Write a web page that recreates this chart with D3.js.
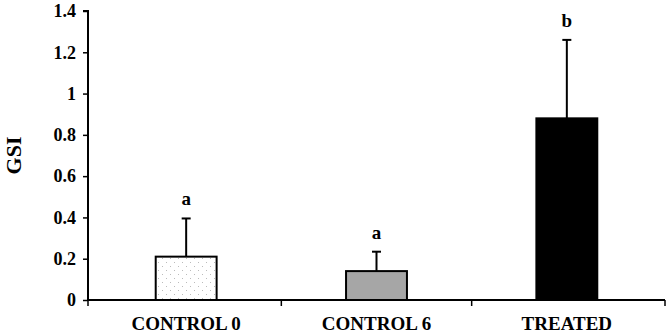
<!DOCTYPE html>
<html><head><meta charset="utf-8">
<script src="https://cdn.jsdelivr.net/npm/d3@7"></script>
<style>body{margin:0;background:#fff}svg{display:block}svg text{font-family:"Liberation Serif",serif !important;font-weight:700;fill:#000}</style>
</head><body>
<script>
const categories = ["CONTROL 0", "CONTROL 6", "TREATED"];
const means = [0.21, 0.14, 0.88];
const errors = [0.185, 0.094, 0.38];
const letters = ["a", "a", "b"];
const yTicks = [0, 0.2, 0.4, 0.6, 0.8, 1, 1.2, 1.4];
const fills = ["url(#dots)", "#a6a6a6", "#000000"];

const W = 668, H = 334;
const m = {left: 88, right: 3, top: 11, bottom: 34};
const svg = d3.select("body").append("svg").attr("width", W).attr("height", H);
const defs = svg.append("defs");
const pat = defs.append("pattern").attr("id", "dots").attr("patternUnits", "userSpaceOnUse")
  .attr("width", 8).attr("height", 8);
pat.append("rect").attr("width", 8).attr("height", 8).attr("fill", "#fff");
pat.append("rect").attr("x", 2).attr("y", 2).attr("width", 1).attr("height", 1).attr("fill", "#bbb");
pat.append("rect").attr("x", 6).attr("y", 6).attr("width", 1).attr("height", 1).attr("fill", "#bbb");

const x = d3.scaleBand().domain(categories).range([m.left + 3, W - m.right - 3]).paddingInner(0.68).paddingOuter(0.34);
const y = d3.scaleLinear().domain([0, 1.4]).range([H - m.bottom, m.top]);

// bars
svg.selectAll("rect.bar").data(categories).join("rect").attr("class", "bar")
  .attr("x", d => x(d)).attr("width", x.bandwidth())
  .attr("y", (d, i) => y(means[i])).attr("height", (d, i) => y(0) - y(means[i]))
  .attr("fill", (d, i) => fills[i]).attr("stroke", "#000").attr("stroke-width", 2);

// error bars
const eb = svg.append("g").attr("stroke", "#000").attr("stroke-width", 2);
categories.forEach((c, i) => {
  const cx = x(c) + x.bandwidth() / 2;
  eb.append("line").attr("x1", cx).attr("x2", cx).attr("y1", y(means[i])).attr("y2", y(means[i] + errors[i]));
  eb.append("line").attr("x1", cx - 4.5).attr("x2", cx + 4.5).attr("y1", y(means[i] + errors[i])).attr("y2", y(means[i] + errors[i]));
});

// letters
svg.selectAll("text.let").data(categories).join("text").attr("class", "let")
  .attr("x", d => x(d) + x.bandwidth() / 2)
  .attr("y", (d, i) => y(means[i] + errors[i]) - 13)
  .attr("text-anchor", "middle").style("font-size", "19px")
  .text((d, i) => letters[i]);

// y axis
const ya = svg.append("g").attr("transform", `translate(${m.left},0)`)
  .call(d3.axisLeft(y).tickValues(yTicks).tickFormat(d3.format("~g")).tickSize(5).tickPadding(7));
ya.attr("font-family", null).attr("font-size", null);
ya.select(".domain").attr("stroke-width", 2).attr("d", `M-5,${y(1.4)}H0V${y(0)}`);
ya.selectAll(".tick line").attr("stroke-width", 1.5);
ya.selectAll("text").style("font-size", "18px").attr("fill", "#000");

// x axis
const xa = svg.append("g").attr("transform", `translate(0,${y(0)})`);
xa.append("line").attr("x1", m.left).attr("x2", W - m.right).attr("y1", 0).attr("y2", 0).attr("stroke", "#000").attr("stroke-width", 2);
const bounds = [m.left, ...categories.slice(1).map(c => x(c) - x.step() * x.paddingInner() / 2), W - m.right];
xa.selectAll("line.xt").data(bounds).join("line").attr("class", "xt")
  .attr("x1", d => d).attr("x2", d => d).attr("y1", 0).attr("y2", 6).attr("stroke", "#000").attr("stroke-width", 1.5);
xa.selectAll("text").data(categories).join("text")
  .attr("x", d => x(d) + x.bandwidth() / 2).attr("y", 30)
  .attr("text-anchor", "middle").style("font-size", "19px")
  .text(d => d);

// y label
svg.append("text").attr("transform", `translate(21,${(y(0) + y(1.4)) / 2}) rotate(-90)`)
  .attr("text-anchor", "middle").style("font-size", "22px")
  .text("GSI");
</script>
</body></html>
